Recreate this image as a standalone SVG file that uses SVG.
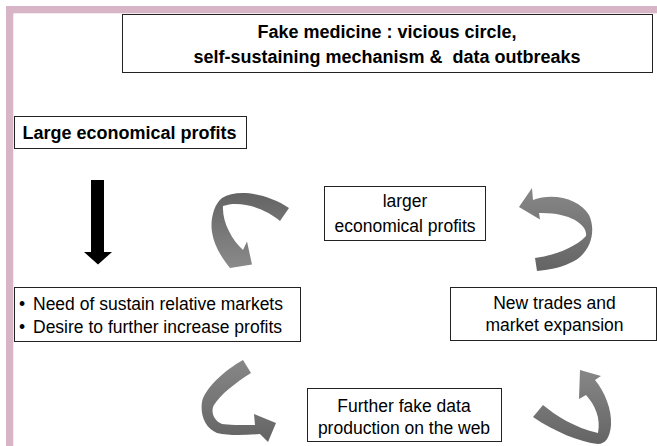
<svg xmlns="http://www.w3.org/2000/svg" width="657" height="446" viewBox="0 0 657 446">
<style>
.box{fill:#fff;stroke:#222;stroke-width:1}
.t{font-family:"Liberation Sans",Arial,sans-serif;font-size:17.5px;fill:#000}
.tb{font-family:"Liberation Sans",Arial,sans-serif;font-size:18px;font-weight:bold;fill:#000}
.c{text-anchor:middle}
</style>
<defs>
<linearGradient id="gDown" x1="0" y1="0" x2="0" y2="1">
<stop offset="0" stop-color="#646464"/><stop offset="1" stop-color="#8a8a8a"/>
</linearGradient>
<linearGradient id="gUp" x1="0" y1="0" x2="0" y2="1">
<stop offset="0" stop-color="#878787"/><stop offset="1" stop-color="#646464"/>
</linearGradient>
</defs>
<rect width="657" height="446" fill="#fff"/>
<g id="frame" fill="#d8b5c6">
<rect x="6" y="6" width="651" height="7.3"/>
<rect x="6" y="6" width="7.3" height="440"/>
</g>
<g id="title">
<rect class="box" x="122.5" y="14.5" width="530" height="58"/>
<text class="tb c" x="387" y="37.5">Fake medicine : vicious circle,</text>
<text class="tb c" x="387" y="62.5" xml:space="preserve" style="white-space:pre">self-sustaining mechanism &amp;  data outbreaks</text>
</g>
<g id="large-profits">
<rect class="box" x="14.5" y="116.5" width="232" height="32"/>
<text class="tb" x="22.5" y="138.5">Large economical profits</text>
</g>
<g id="needs">
<rect class="box" x="14.5" y="287.5" width="286" height="54"/>
<text class="t" x="19" y="310">•</text>
<text class="t" x="33" y="310">Need of sustain relative markets</text>
<text class="t" x="19" y="332.5">•</text>
<text class="t" x="33" y="332.5">Desire to further increase profits</text>
</g>
<g id="larger-profits">
<rect class="box" x="324.5" y="186.5" width="161" height="54"/>
<text class="t c" x="405" y="207">larger</text>
<text class="t c" x="405" y="231.5">economical profits</text>
</g>
<g id="new-trades">
<rect class="box" x="450.5" y="287.5" width="206" height="53"/>
<text class="t c" x="554.5" y="309">New trades and</text>
<text class="t c" x="554.5" y="331">market expansion</text>
</g>
<g id="fake-data">
<rect class="box" x="307.5" y="388.5" width="194" height="53"/>
<text class="t c" x="404" y="411.5">Further fake data</text>
<text class="t c" x="404" y="433.5">production on the web</text>
</g>
<g id="connectors">
<path id="down-arrow" d="M91,180 H104 V252 H112 L98,264.5 L84,252 H91 Z" fill="#000"/>
<path id="curve1" fill="url(#gDown)" d="M222,198 C238,188 268,194 289,208 L280,221 C265,208 240,200 223,206 C222,222 232,240 243,250 L247,241.5 L252,264.5 L230,268 C222,258 214,246 212,232 C210,220 214,204 222,198 Z"/>
<path id="curve2" fill="url(#gUp)" d="M533,200 C555,192 580,200 589,215 C597,232 590,255 570,263 C560,268 548,270 537,271 L535,258 C552,256 575,248 586,236 C588,225 570,212 539,213 L540,219.5 L519,207 L532,188 Z"/>
<path id="curve3" fill="url(#gUp)" d="M243,360 C225,370 205,388 202,402 C200,415 205,428 217,433 C230,436 245,435 260,434 L268,442 L276,423 L254,414 L255,425 C240,425 228,425 222,424 C212,420 211,410 214,405 C220,395 235,383 251,373 Z"/>
<path id="curve4" fill="url(#gUp)" d="M543,405 C555,415 575,428 598,433 C601,418 595,405 586,395 L579,399 L580,370 L601,376 L595,380 C605,392 612,410 611,425 C610,438 605,444 598,444 C580,442 555,432 533,417 Z"/>
</g>
</svg>
